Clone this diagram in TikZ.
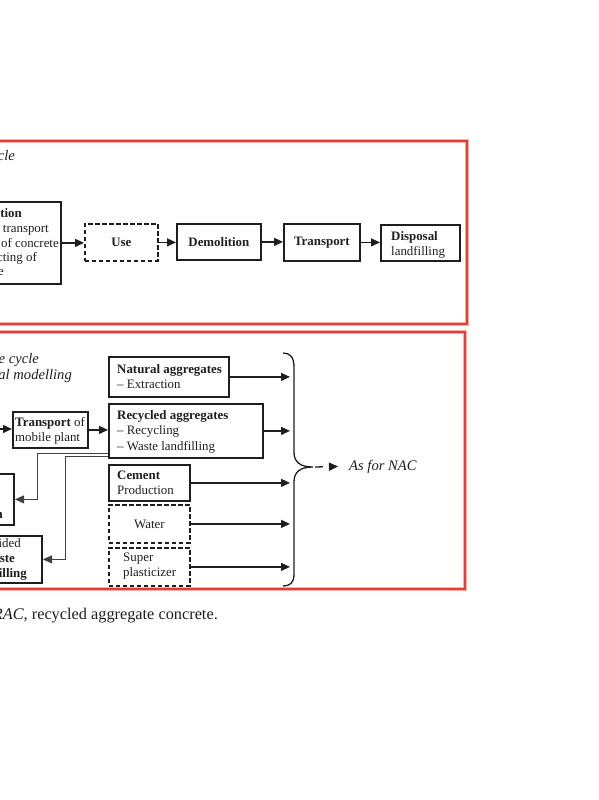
\documentclass[tikz,border=0pt]{standalone}
\usepackage{fontspec}
\setmainfont{Liberation Serif}
\usetikzlibrary{arrows.meta,calc}
\definecolor{ink}{HTML}{1E1E1E}
\definecolor{frame}{HTML}{E63B36}
\definecolor{halo}{HTML}{F7B0A6}
\begin{document}
\begin{tikzpicture}[x=1pt,y=-1pt,
  every node/.style={text=ink, inner sep=0pt},
  fs/.style={font=\fontsize{12.9}{15}\selectfont},
  fsi/.style={font=\fontsize{14.6}{16}\selectfont\itshape},
  box/.style={draw=ink, line width=1.8pt, fs, align=center},
  dbox/.style={box, dash pattern=on 4.5pt off 2.5pt},
  arr/.style={draw=ink, line width=1.3pt, -{Triangle[length=9pt,width=8pt]}},
  thinarr/.style={arr, draw=ink!85, line width=1pt},
  frag/.style={fs, anchor=base east},
  lbl/.style={fs, anchor=base west},
  halopen/.style={draw=halo, line width=3.2pt},
  framepen/.style={draw=frame, line width=1.3pt}]
\useasboundingbox (0,0) rectangle (599,800);
% panels
\draw[halopen] (-10,141) rectangle (467,324);
\draw[framepen] (-10,141) rectangle (467,324);
\draw[halopen] (-10,332) rectangle (465,589);
\draw[framepen] (-10,332) rectangle (465,589);
% top panel
\node[fsi, anchor=base east] (t1) at (15,160) {cycle};
\node[box, minimum width=142pt, minimum height=82pt, anchor=north east] (b1) at (62,201) {};
\node[frag] (f1) at (22,217) {\textbf{tion}};
\node[frag] (f2) at (49,232) {transport};
\node[frag] (f3) at (59,247) {of concrete};
\node[frag] (f4) at (37,261) {cting of};
\node[frag] (f5) at (4,275) {e};
\node[dbox, minimum width=73pt, minimum height=37pt, anchor=north west] (use) at (84,223) {\textbf{Use}};
\node[box, minimum width=84pt, minimum height=36pt, anchor=north west] (dem) at (176,223) {\textbf{Demolition}};
\node[box, minimum width=76pt, minimum height=37pt, anchor=north west] (tra) at (283,223) {\textbf{Transport}};
\node[box, minimum width=79pt, minimum height=36pt, anchor=north west] (dis) at (380,224) {};
\node[lbl] (dis1) at (391,240) {\textbf{Disposal}};
\node[lbl] (dis2) at (391,255) {landfilling};
\draw[arr] (b1.east) -- (b1.east -| use.west);
\draw[arr] (use.east) -- (use.east -| dem.west);
\draw[arr] (dem.east) -- (dem.east -| tra.west);
\draw[arr] (tra.east) -- (tra.east -| dis.west);
% bottom panel
\node[fsi, anchor=base east] (t2) at (39,363) {life cycle};
\node[fsi, anchor=base east] (t3) at (72,379) {al modelling};
\node[box, minimum width=75pt, minimum height=36pt, anchor=north west] (tmp) at (12,411) {};
\node[lbl] (tmp1) at (15,426) {\textbf{Transport} of};
\node[lbl] (tmp2) at (15,441) {mobile plant};
\coordinate (in) at (-10,429);
\draw[arr] (in) -- (in -| tmp.west);
\node[box, minimum width=120pt, minimum height=40pt, anchor=north west] (nat) at (108,356) {};
\node[lbl] (nat1) at (117,373) {\textbf{Natural aggregates}};
\node[lbl] (nat2) at (117,388) {– Extraction};
\node[box, minimum width=154pt, minimum height=54pt, anchor=north west] (rec) at (108,403) {};
\node[lbl] (rec1) at (117,419) {\textbf{Recycled aggregates}};
\node[lbl] (rec2) at (117,434) {– Recycling};
\node[lbl] (rec3) at (117,450) {– Waste landfilling};
\node[box, minimum width=81pt, minimum height=36pt, anchor=north west] (cem) at (108,464) {};
\node[lbl] (cem1) at (117,479) {\textbf{Cement}};
\node[lbl] (cem2) at (117,494) {Production};
\node[dbox, minimum width=81pt, minimum height=38pt, anchor=north west] (wat) at (108,504) {Water};
\node[dbox, minimum width=81pt, minimum height=38pt, anchor=north west] (sup) at (108,547) {};
\node[lbl] (sup1) at (123,561) {Super};
\node[lbl] (sup2) at (123,576) {plasticizer};
\draw[arr] (tmp.east) -- (tmp.east -| rec.west);
% left boxes
\node[box, minimum width=80pt, minimum height=51pt, anchor=north east] (lb) at (15,473) {};
\node[frag] (g1) at (3,518) {\textbf{n}};
\node[box, minimum width=80pt, minimum height=47pt, anchor=north east] (av) at (43,535) {};
\node[frag] (h1) at (21,547) {ided};
\node[frag] (h2) at (15,562) {\textbf{ste}};
\node[frag] (h3) at (27,577) {\textbf{illing}};
\draw[thinarr] ([yshift=5pt]rec.south west) -| ($(lb.east)+(22,0)$) -- (lb.east);
\draw[thinarr] ([yshift=2pt]rec.south west) -| ($(av.east)+(22,0)$) -- (av.east);
% arrows to brace
\coordinate (bx) at (290,0);
\foreach \n in {nat,rec,cem,wat,sup} \draw[arr] (\n.east) -- (\n.east -| bx);
% brace
\coordinate (tip) at (313,467);
\draw[ink, line width=1.3pt] (283,353) .. controls (290,353) and (294,357) .. (294,367) -- (294,452)
  .. controls (294,462) and (300,467) .. (tip)
  .. controls (300,467) and (294,472) .. (294,482) -- (294,574)
  .. controls (294,583) and (290,586) .. (283,586);
\node[fsi, anchor=base west] (asfor) at (349,470) {As for NAC};
\draw[arr, dash pattern=on 8pt off 7pt] ([xshift=2pt]tip) -- ([xshift=-11pt]asfor.west);
% caption
\node[anchor=base east, font=\fontsize{16.3}{19}\selectfont] (cap) at (218,619) {\textit{RAC}, recycled aggregate concrete.};
\end{tikzpicture}
\end{document}
